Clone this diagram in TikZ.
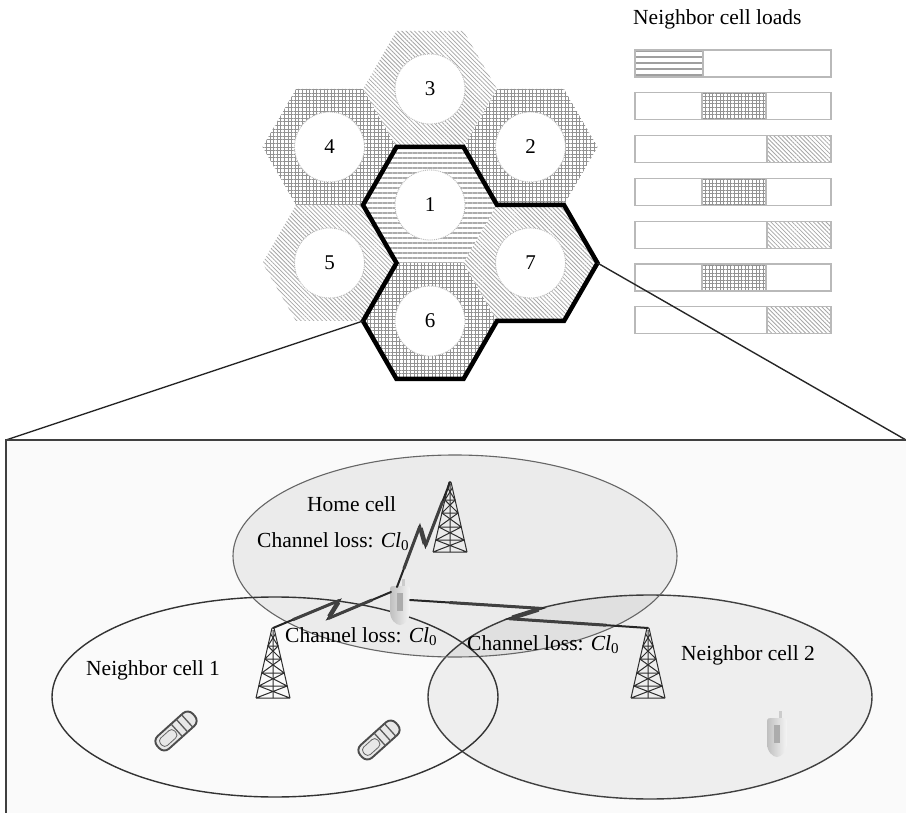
\documentclass[tikz,border=0pt]{standalone}
\usepackage{fontspec}
\setmainfont{Liberation Serif}
\usetikzlibrary{calc,patterns.meta}

% lightning-bolt radio link between two named points
\newcommand\radiolink[2]{%
  \coordinate (zpa) at ($(#1)!0.55!(#2)!7pt!90:(#2)$);
  \coordinate (zpb) at ($(#1)!0.42!(#2)!7pt!-90:(#2)$);
  \draw[boltline] (#1) -- (zpa) -- (zpb) -- (#2);
  \draw[boltcore] ($(zpa)!0.1!(zpb)$) -- ($(zpa)!0.9!(zpb)$);
  \draw[boltcore, line width=3pt] ($(#1)!0.3!(zpa)$) -- (zpa);
  \draw[boltcore, line width=3pt] (zpb) -- ($(zpb)!0.7!(#2)$);
}

\begin{document}
\begin{tikzpicture}[x=1pt,y=-1pt,
  lbl/.style={font=\fontsize{21.5}{24}\selectfont, inner sep=0pt, anchor=base west},
  num/.style={font=\fontsize{21}{24}\selectfont},
  core/.style={circle, fill=white, draw=gray!55, densely dotted, line width=0.9pt,
               minimum size=70pt, inner sep=0pt},
  hlines/.style={pattern={Lines[angle=0,distance=5pt,line width=1.3pt]}, pattern color=gray!65},
  barlines/.style={pattern={Lines[angle=0,distance=6pt,line width=1.3pt]}, pattern color=gray!75},
  gridfill/.style={pattern={Hatch[angle=0,distance=3.6pt,line width=0.7pt]}, pattern color=gray!85},
  diagfill/.style={pattern={Lines[angle=-45,distance=3pt,line width=0.8pt]}, pattern color=gray!70},
  barline/.style={draw=gray!55, line width=1.3pt},
  boltline/.style={line width=2pt, black!85, line join=miter, line cap=round},
  boltcore/.style={line width=4.5pt, gray!50!black},
  towerline/.style={line width=1pt, gray!35!black},
  mast/.pic={
    \coordinate (-apex) at (0,0);
    \draw[towerline] (-1,0) -- (-17,70) (1,0) -- (17,70) (0,2) -- (0,70);
    \foreach \ya/\yb in {6/18,18/31,31/45,45/58,58/70}{
      \draw[towerline] ({-(1+16*\ya/70)},\ya) -- ({1+16*\yb/70},\yb)
                       ({1+16*\ya/70},\ya) -- ({-(1+16*\yb/70)},\yb)
                       ({-(1+16*\yb/70)},\yb) -- ({1+16*\yb/70},\yb);
    }
  },
  handset/.pic={
    \coordinate (-c) at (0,0);
    \fill[gray!40] (2,-19) rectangle (5,-26);
    \shade[left color=gray!50, right color=gray!8]
      (-10,-15) .. controls (-10,-19) and (-8,-19) .. (-6,-19) -- (6,-19)
      .. controls (8,-19) and (10,-19) .. (10,-15) -- (10,6)
      .. controls (10,15) and (4,20) .. (0,20)
      .. controls (-4,20) and (-10,15) .. (-10,6) -- cycle;
    \fill[gray!65] (-3,-12) rectangle (3,6);
  },
  flipphone/.pic={
    \coordinate (-c) at (0,0);
    \begin{scope}[rotate=42]
      \draw[line width=1.9pt, black!70, fill=gray!18, rounded corners=7pt]
        (-24,-8.5) rectangle (24,8.5);
      \draw[line width=0.8pt, black!60, rounded corners=4pt] (-20,-5) rectangle (-1,5);
      \draw[line width=1.3pt, black!65] (1,-8.5) -- (1,8.5) (8,-8.5) -- (8,8.5) (15,-8.5) -- (15,8.5);
    \end{scope}
  }
]
\useasboundingbox (0,0) rectangle (906,813);
\clip (0,0) rectangle (906,813);

% ---------------- cluster of seven cells ----------------
\coordinate (c1) at (430,205);
\coordinate (c2) at (530.5,147);
\coordinate (c3) at (430,89);
\coordinate (c4) at (329.5,147);
\coordinate (c5) at (329.5,263);
\coordinate (c6) at (430,321);
\coordinate (c7) at (530.5,263);

\foreach \c/\sty in {c1/hlines,c2/gridfill,c3/diagfill,c4/gridfill,c5/diagfill,c6/gridfill,c7/diagfill}{
  \path[fill=white, shift={(\c)}] (67,0) -- (33.5,-58) -- (-33.5,-58) -- (-67,0) -- (-33.5,58) -- (33.5,58) -- cycle;
  \path[\sty, shift={(\c)}] (67,0) -- (33.5,-58) -- (-33.5,-58) -- (-67,0) -- (-33.5,58) -- (33.5,58) -- cycle;
}

\foreach \i in {1,...,7}{
  \node[core, num] (n\i) at (c\i) {\i};
}

% outline of cells 1, 6 and 7
\coordinate (z1) at (363,321);
\coordinate (z2) at (597.5,263);
\draw[line width=4.5pt, line join=miter] (396.5,147) -- (463.5,147) -- (497,205) -- (564,205)
  -- (z2) -- (564,321) -- (497,321) -- (463.5,379) -- (396.5,379) -- (z1)
  -- (396.5,263) -- (363,205) -- cycle;

% ---------------- neighbor cell load bars ----------------
\node[lbl] (title) at (633,25) {Neighbor cell loads};
\foreach \k/\xa/\xb/\sty in {0/635/703/barlines,1/702/766/gridfill,2/767/831/diagfill,
                             3/702/766/gridfill,4/767/831/diagfill,5/702/766/gridfill,
                             6/767/831/diagfill}{
  \pgfmathsetmacro\yt{50+42.8*\k}
  \path[\sty] (\xa,\yt) rectangle (\xb,\yt+27);
  \draw[barline] (\xa,\yt) -- (\xa,\yt+27) (\xb,\yt) -- (\xb,\yt+27);
  \draw[barline] (635,\yt) rectangle (831,\yt+27);
}

% ---------------- magnified view ----------------
\coordinate (b1) at (6,440);
\coordinate (b2) at (906,440);
\fill[gray!4] (b1) rectangle (910,820);
\draw[line width=1.4pt, black!85] (z1) -- (b1);
\draw[line width=1.4pt, black!85] (z2) -- (b2);
\draw[line width=2pt, black!75] (6,820) -- (b1) -- (910,440);

% coverage areas
\fill[gray!13] (650,697) ellipse [x radius=222pt, y radius=102pt];
\draw[line width=1.4pt, black!75] (650,697) ellipse [x radius=222pt, y radius=102pt];
\fill[black, fill opacity=0.06] (455,556) ellipse [x radius=222pt, y radius=101pt];
\draw[line width=1.1pt, gray!80!black] (455,556) ellipse [x radius=222pt, y radius=101pt];
\draw[line width=1.4pt, black!80] (275,697) ellipse [x radius=223pt, y radius=100pt];

% base stations
\pic (t0) at (450,482) {mast};
\pic (t1) at (273,628) {mast};
\pic (t2) at (648,628) {mast};

% terminals
\pic (ue0) at (400,605) {handset};
\pic (ue1) at (777,737) {handset};
\pic (ph1) at (176,731) {flipphone};
\pic (ph2) at (379,740) {flipphone};

% radio links
\coordinate (ue0a) at (397,587);
\coordinate (ue0b) at (391,592);
\coordinate (ue0c) at (410,600);
\radiolink{ue0a}{t0-apex}
\radiolink{ue0b}{t1-apex}
\radiolink{ue0c}{t2-apex}

% labels
\node[lbl] (home) at (307,511) {Home cell};
\node[lbl] (cl0) at (257,547) {Channel loss: \textit{Cl}\textsubscript{0}};
\node[lbl] (cl1) at (285,642) {Channel loss: \textit{Cl}\textsubscript{0}};
\node[lbl] (cl2) at (467,650) {Channel loss: \textit{Cl}\textsubscript{0}};
\node[lbl] (nb1) at (86,675) {Neighbor cell 1};
\node[lbl] (nb2) at (681,660) {Neighbor cell 2};
\end{tikzpicture}
\end{document}
